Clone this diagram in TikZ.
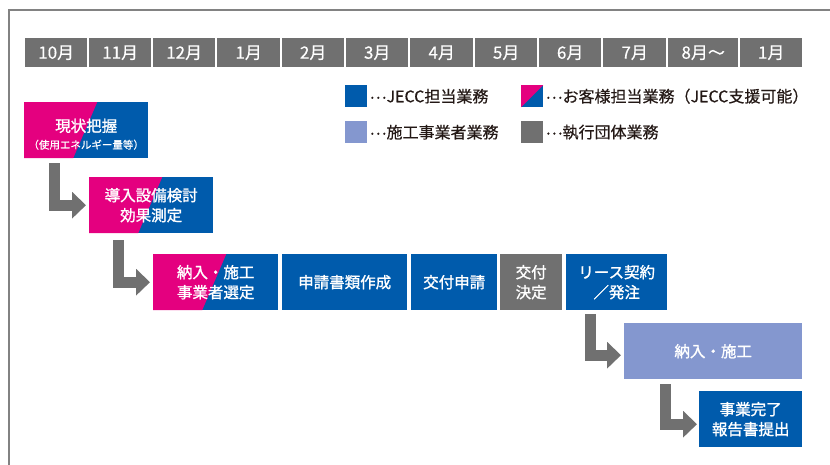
\documentclass[tikz,border=0pt]{standalone}
\usepackage{fontspec}
\setmainfont{Noto Sans CJK JP}
\newfontfamily\jpmed{Noto Sans CJK JP}[FakeBold=1.2]
\newfontfamily\jplight{Noto Sans CJK JP}[FakeBold=0.5]
\usetikzlibrary{arrows.meta,calc}
\definecolor{jblue}{HTML}{005BAC}
\definecolor{jpink}{HTML}{E4007F}
\definecolor{jlight}{HTML}{8497CF}
\definecolor{jgray}{HTML}{707070}
\definecolor{jtext}{HTML}{231815}
\definecolor{jframe}{HTML}{828282}
\newcommand{\legdots}{\raisebox{3.6pt}{…}}
\tikzset{
  month/.style={fill=jgray, text=white, inner sep=0pt, anchor=north west,
    minimum height=29pt, font=\fontsize{17}{18}\selectfont\jplight},
  box/.style={fill=jblue, text=white, inner sep=0pt, anchor=north west,
    minimum height=56pt, align=center, font=\fontsize{15.5}{20}\selectfont\jpmed},
  splitbox/.style={box, path picture={
    \fill[jpink] (path picture bounding box.north west)
      -- ([xshift=73pt]path picture bounding box.north west)
      -- ([xshift=49pt]path picture bounding box.south west)
      -- (path picture bounding box.south west) -- cycle;}},
  legsq/.style={inner sep=0pt, minimum size=22pt, anchor=north west},
  legtxt/.style={text=jtext, inner sep=0pt, anchor=west, font=\fontsize{16}{18}\selectfont\jplight},
  flowarrow/.style={draw=jgray, line width=11pt, line join=miter,
    -{Triangle[length=14pt,width=26pt]}}
}
\begin{document}
\begin{tikzpicture}[x=1pt,y=-1pt]
\useasboundingbox (0,0) rectangle (830,464);
% frame
\draw[jframe, line width=1.5pt] (9,470) -- (9,10) -- (835,10);
% months
\foreach \a/\b/\t/\n in {25/87/10月/m1, 89/151/11月/m2, 153/215/12月/m3,
  217/280/1月/m4, 282/344/2月/m5, 346/408/3月/m6, 410/473/4月/m7,
  475/537/5月/m8, 539/601/6月/m9, 603/666/7月/m10, 668/738/8月〜/m11,
  740/802/1月/m12}
  \node[month, minimum width=\b-\a] (\n) at (\a,38) {\t};
% legend
\node[legsq, fill=jblue] (lg1) at (345,85) {};
\node[legtxt] (lt1) at ([xshift=2pt]lg1.east) {\legdots JECC担当業務};
\node[legsq, fill=jblue, path picture={
  \fill[jpink] (path picture bounding box.north west)
    -- (path picture bounding box.north east)
    -- (path picture bounding box.south west) -- cycle;}] (lg2) at (521,85) {};
\node[legtxt] (lt2) at ([xshift=2pt]lg2.east) {\legdots お客様担当業務（JECC支援可能）};
\node[legsq, fill=jlight] (lg3) at (345,121) {};
\node[legtxt] (lt3) at ([xshift=2pt]lg3.east) {\legdots 施工事業者業務};
\node[legsq, fill=jgray] (lg4) at (521,121) {};
\node[legtxt] (lt4) at ([xshift=2pt]lg4.east) {\legdots 執行団体業務};
% boxes
\node[splitbox, minimum width=124pt] (b1) at (24,102) {};
\node[text=white, align=center, inner sep=0pt, font=\fontsize{15.5}{20}\selectfont\jpmed]
  (b1t) at ($(b1.center)+(0,4)$)
  {現状把握\\[-3pt]{\fontsize{10.5}{12}\selectfont\jplight （使用エネルギー量等）}};
\node[splitbox, minimum width=124pt] (b2) at (89,177) {導入設備検討\\効果測定};
\node[splitbox, minimum width=125pt] (b3) at (153,254) {納入・施工\\事業者選定};
\node[box, minimum width=125pt] (b4) at (282,254) {申請書類作成};
\node[box, minimum width=86pt] (b5) at (411,254) {交付申請};
\node[box, fill=jgray, minimum width=62pt] (b6) at (500,254) {交付\\決定};
\node[box, minimum width=101pt] (b7) at (566,254) {リース契約\\／発注};
\node[box, fill=jlight, minimum width=178pt] (b8) at (624,323) {納入・施工};
\node[box, minimum width=103pt] (b9) at (699,391) {事業完了\\報告書提出};
% arrows
\draw[flowarrow] ($(b1.south west)+(30.5,5)$) |- ($(b2.west)+(-3,0)$);
\draw[flowarrow] ($(b2.south west)+(29.5,7)$) |- ($(b3.west)+(-3,0)$);
\draw[flowarrow] ($(b7.south west)+(24,4)$) |- ($(b8.west)+(-3,4)$);
\draw[flowarrow] ($(b8.south west)+(41,5)$) |- ($(b9.west)+(-2,5)$);
\end{tikzpicture}
\end{document}
